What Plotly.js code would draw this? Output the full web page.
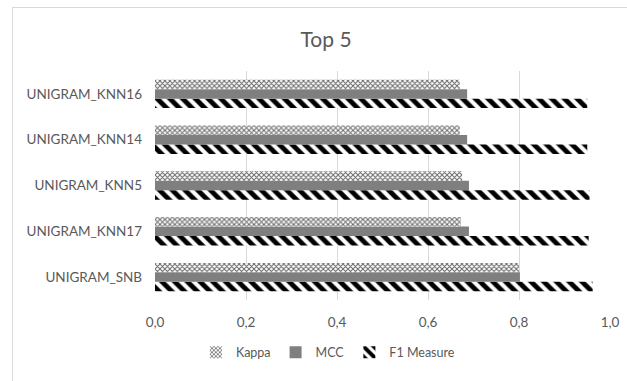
<!DOCTYPE html>
<html>
<head>
<meta charset="utf-8">
<script src="https://cdn.plot.ly/plotly-3.0.1.min.js"></script>
<style>
html,body{margin:0;padding:0;background:#fff;overflow:hidden;}
#wrap{position:relative;width:627px;height:381px;}
#frame{position:absolute;left:12px;top:7px;width:700px;height:450px;border:1px solid #d9d9d9;box-sizing:border-box;pointer-events:none;}
#chart{position:absolute;left:0;top:0;width:627px;height:381px;}
</style>
</head>
<body>
<div id="wrap">
<div id="chart"></div>
<div id="frame"></div>
</div>
<script>
// categories from bottom to top
const categories = ["UNIGRAM_SNB", "UNIGRAM_KNN17", "UNIGRAM_KNN5", "UNIGRAM_KNN14", "UNIGRAM_KNN16"];
const kappa = [0.800, 0.672, 0.675, 0.670, 0.670];
const mcc   = [0.802, 0.690, 0.690, 0.686, 0.686];
const f1    = [0.962, 0.953, 0.955, 0.950, 0.950];
const tickVals = [0, 0.2, 0.4, 0.6, 0.8, 1.0];

const font = "Lato, 'Open Sans', sans-serif";

const traces = [
  {
    type: 'bar', orientation: 'h', name: 'F1 Measure', y: categories, x: f1,
    marker: {color: '#000000', line: {width: 0},
      pattern: {shape: '\\', size: 9, solidity: 0.55, fgcolor: '#000000', bgcolor: '#ffffff', fgopacity: 1, fillmode: 'replace'}}
  },
  {
    type: 'bar', orientation: 'h', name: 'MCC', y: categories, x: mcc,
    marker: {color: '#7f7f7f', line: {width: 0}}
  },
  {
    type: 'bar', orientation: 'h', name: 'Kappa', y: categories, x: kappa,
    marker: {color: '#6a6a6a', line: {width: 0},
      pattern: {shape: 'x', size: 3.5, solidity: 0.5, fgcolor: '#6a6a6a', bgcolor: '#ffffff', fgopacity: 1, fillmode: 'replace'}}
  }
];

const layout = {
  width: 627, height: 381,
  margin: {l: 155, r: 17, t: 71, b: 81},
  paper_bgcolor: 'rgba(0,0,0,0)', plot_bgcolor: 'rgba(0,0,0,0)',
  separators: ',.',
  font: {family: font, color: '#595959', size: 12},
  title: {text: 'Top 5', x: 0.52, xanchor: 'center', y: 0.895, yanchor: 'middle',
    font: {family: font, size: 21, color: '#595959'}},
  barmode: 'group', bargap: 0.38, bargroupgap: 0,
  xaxis: {range: [0, 1.0], tickvals: tickVals, tickformat: '.1f', showgrid: true, gridcolor: '#d9d9d9',
    gridwidth: 1, zeroline: false, showline: false, ticks: '', ticklabelstandoff: 12,
    tickfont: {family: font, size: 13.5, color: '#595959'}, fixedrange: true},
  yaxis: {type: 'category', showgrid: false, zeroline: false, showline: false, ticks: '',
    ticklabelstandoff: 12, tickfont: {family: font, size: 13.5, color: '#595959'}, fixedrange: true},
  showlegend: true,
  legend: {orientation: 'h', x: 0.38, xanchor: 'center', y: -0.23, yanchor: 'middle',
    traceorder: 'reversed', font: {family: font, size: 12.5, color: '#595959'},
    itemwidth: 30, tracegroupgap: 0}
};

Plotly.newPlot('chart', traces, layout, {displayModeBar: false, staticPlot: true});
</script>
</body>
</html>
